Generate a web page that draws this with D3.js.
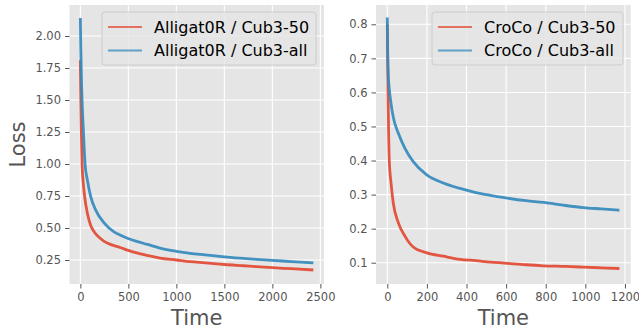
<!DOCTYPE html>
<html>
<head>
<meta charset="utf-8">
<script src="https://cdn.jsdelivr.net/npm/d3@7"></script>
<style>
  body { margin: 0; background: #fff; }
  text { font-family: "DejaVu Sans", sans-serif; }
</style>
</head>
<body>
<div id="chart"></div>
<script>
// values
const alligTime = [0, 4, 10, 18, 28, 45, 73, 108, 140, 177, 240, 320, 413, 500, 587, 700, 830, 1000, 1143, 1300, 1500, 1700, 1837, 2000, 2200, 2427];
const allig50 = [1.81, 1.55, 1.27, 1.0, 0.875, 0.745, 0.615, 0.52, 0.475, 0.44, 0.40, 0.37, 0.348, 0.325, 0.305, 0.285, 0.265, 0.25, 0.237, 0.228, 0.215, 0.205, 0.198, 0.19, 0.182, 0.172];
const alligTimeAll = [0, 5, 10, 20, 31, 49, 73, 108, 160, 247, 351, 413, 490, 587, 698, 830, 1000, 1143, 1300, 1500, 1700, 1837, 2000, 2200, 2427];
const alligAll = [2.14, 1.9, 1.7, 1.45, 1.27, 1.0, 0.875, 0.745, 0.64, 0.54, 0.47, 0.445, 0.42, 0.395, 0.372, 0.343, 0.318, 0.302, 0.29, 0.275, 0.262, 0.255, 0.247, 0.238, 0.227];

const crocoTime = [0, 3, 10, 19, 30, 56, 89, 131, 199, 283, 367, 448, 520, 591, 700, 788, 900, 990, 1080, 1172];
const croco50 = [0.80, 0.64, 0.40, 0.334, 0.276, 0.217, 0.178, 0.146, 0.129, 0.119, 0.11, 0.106, 0.102, 0.099, 0.094, 0.091, 0.089, 0.087, 0.085, 0.083];
const crocoTimeAll = [0, 2, 5, 10, 17, 30, 56, 89, 131, 199, 283, 367, 448, 520, 591, 700, 788, 900, 990, 1080, 1172];
const crocoAll = [0.82, 0.72, 0.65, 0.61, 0.575, 0.528, 0.48, 0.436, 0.397, 0.358, 0.334, 0.318, 0.306, 0.298, 0.291, 0.282, 0.277, 0.268, 0.262, 0.258, 0.254];

const leftXTicks = [0, 500, 1000, 1500, 2000, 2500];
const leftYTicks = [0.25, 0.5, 0.75, 1.0, 1.25, 1.5, 1.75, 2.0];
const rightXTicks = [0, 200, 400, 600, 800, 1000, 1200];
const rightYTicks = [0.1, 0.2, 0.3, 0.4, 0.5, 0.6, 0.7, 0.8];

const RED = "#E24A33", BLUE = "#348ABD";

const width = 639, height = 331;
const svg = d3.select("#chart").append("svg")
    .attr("width", width)
    .attr("height", height);

const panels = [
  {
    left: 69.5, right: 324, xDom: [-113, 2538], yDom: [0.0625, 2.2422],
    xTicks: leftXTicks, yTicks: leftYTicks, yFmt: d3.format(".2f"),
    series: [{name: "Alligat0R / Cub3-50", time: alligTime, vals: allig50, color: RED},
             {name: "Alligat0R / Cub3-all", time: alligTimeAll, vals: alligAll, color: BLUE}],
    legend: {x0: 102, x1: 316},
    ylabel: "Loss"
  },
  {
    left: 376, right: 630.7, xDom: [-57, 1229], yDom: [0.0375, 0.8567],
    xTicks: rightXTicks, yTicks: rightYTicks, yFmt: d3.format(".1f"),
    series: [{name: "CroCo / Cub3-50", time: crocoTime, vals: croco50, color: RED},
             {name: "CroCo / Cub3-all", time: crocoTimeAll, vals: crocoAll, color: BLUE}],
    legend: {x0: 432, x1: 623}
  }
];
const pTop = 5, pBottom = 284;

panels.forEach(function(p, pi) {
  const x = d3.scaleLinear().domain(p.xDom).range([p.left, p.right]);
  const y = d3.scaleLinear().domain(p.yDom).range([pBottom, pTop]);

  svg.append("rect")
      .attr("x", p.left).attr("y", pTop)
      .attr("width", p.right - p.left).attr("height", pBottom - pTop)
      .attr("fill", "#E5E5E5");

  // grid
  svg.append("g").selectAll("line").data(p.xTicks).join("line")
      .attr("x1", d => x(d)).attr("x2", d => x(d))
      .attr("y1", pTop).attr("y2", pBottom)
      .attr("stroke", "#fff").attr("stroke-width", 1.1);
  svg.append("g").selectAll("line").data(p.yTicks).join("line")
      .attr("x1", p.left).attr("x2", p.right)
      .attr("y1", d => y(d)).attr("y2", d => y(d))
      .attr("stroke", "#fff").attr("stroke-width", 1.1);

  // axes
  const xAxis = d3.axisBottom(x).tickValues(p.xTicks).tickSize(4.5).tickPadding(4).tickFormat(d3.format("d"));
  const gx = svg.append("g").attr("transform", "translate(0," + pBottom + ")").call(xAxis);
  const yAxis = d3.axisLeft(y).tickValues(p.yTicks).tickSize(4.5).tickPadding(4).tickFormat(p.yFmt);
  const gy = svg.append("g").attr("transform", "translate(" + p.left + ",0)").call(yAxis);
  [gx, gy].forEach(function(g) {
    g.select(".domain").remove();
    g.selectAll(".tick line").attr("stroke", "#555").attr("stroke-width", 1);
    g.selectAll(".tick text").attr("fill", "#555").style("font-size", "11.5px")
        .style("font-family", "DejaVu Sans");
  });

  // lines
  const clipId = "clip" + pi;
  svg.append("clipPath").attr("id", clipId).append("rect")
      .attr("x", p.left).attr("y", pTop)
      .attr("width", p.right - p.left).attr("height", pBottom - pTop);
  p.series.forEach(function(s) {
    const line = d3.line()
        .x((d, i) => x(s.time[i]))
        .y(d => y(d))
        .curve(d3.curveMonotoneX);
    svg.append("path")
        .attr("clip-path", "url(#" + clipId + ")")
        .attr("d", line(s.vals))
        .attr("fill", "none")
        .attr("stroke", s.color)
        .attr("stroke-width", 2.8)
        .attr("stroke-opacity", 0.92)
        .attr("stroke-linejoin", "round");
  });

  // legend
  const lg = svg.append("g");
  lg.append("rect")
      .attr("x", p.legend.x0).attr("y", 12)
      .attr("width", p.legend.x1 - p.legend.x0).attr("height", 53)
      .attr("rx", 3)
      .attr("fill", "#E5E5E5").attr("fill-opacity", 0.8)
      .attr("stroke", "#CCCCCC").attr("stroke-width", 1);
  p.series.forEach(function(s, i) {
    const yy = 27 + i * 23.5;
    lg.append("line")
        .attr("x1", p.legend.x0 + 6).attr("x2", p.legend.x0 + 40)
        .attr("y1", yy).attr("y2", yy)
        .attr("stroke", s.color).attr("stroke-width", 2)
        .attr("stroke-opacity", 0.75);
    lg.append("text")
        .attr("x", p.legend.x0 + 52).attr("y", yy + 5.7)
        .style("font-size", "16px")
        .attr("fill", "#000")
        .text(s.name);
  });

  // x label
  svg.append("text")
      .attr("x", (p.left + p.right) / 2).attr("y", 324.5)
      .attr("text-anchor", "middle")
      .style("font-size", "21px")
      .attr("fill", "#555")
      .text("Time");

  if (p.ylabel) {
    svg.append("text")
        .attr("transform", "translate(25," + ((pTop + pBottom) / 2) + ") rotate(-90)")
        .attr("text-anchor", "middle")
        .style("font-size", "21px")
        .attr("fill", "#555")
        .text(p.ylabel);
  }
});
</script>
</body>
</html>
